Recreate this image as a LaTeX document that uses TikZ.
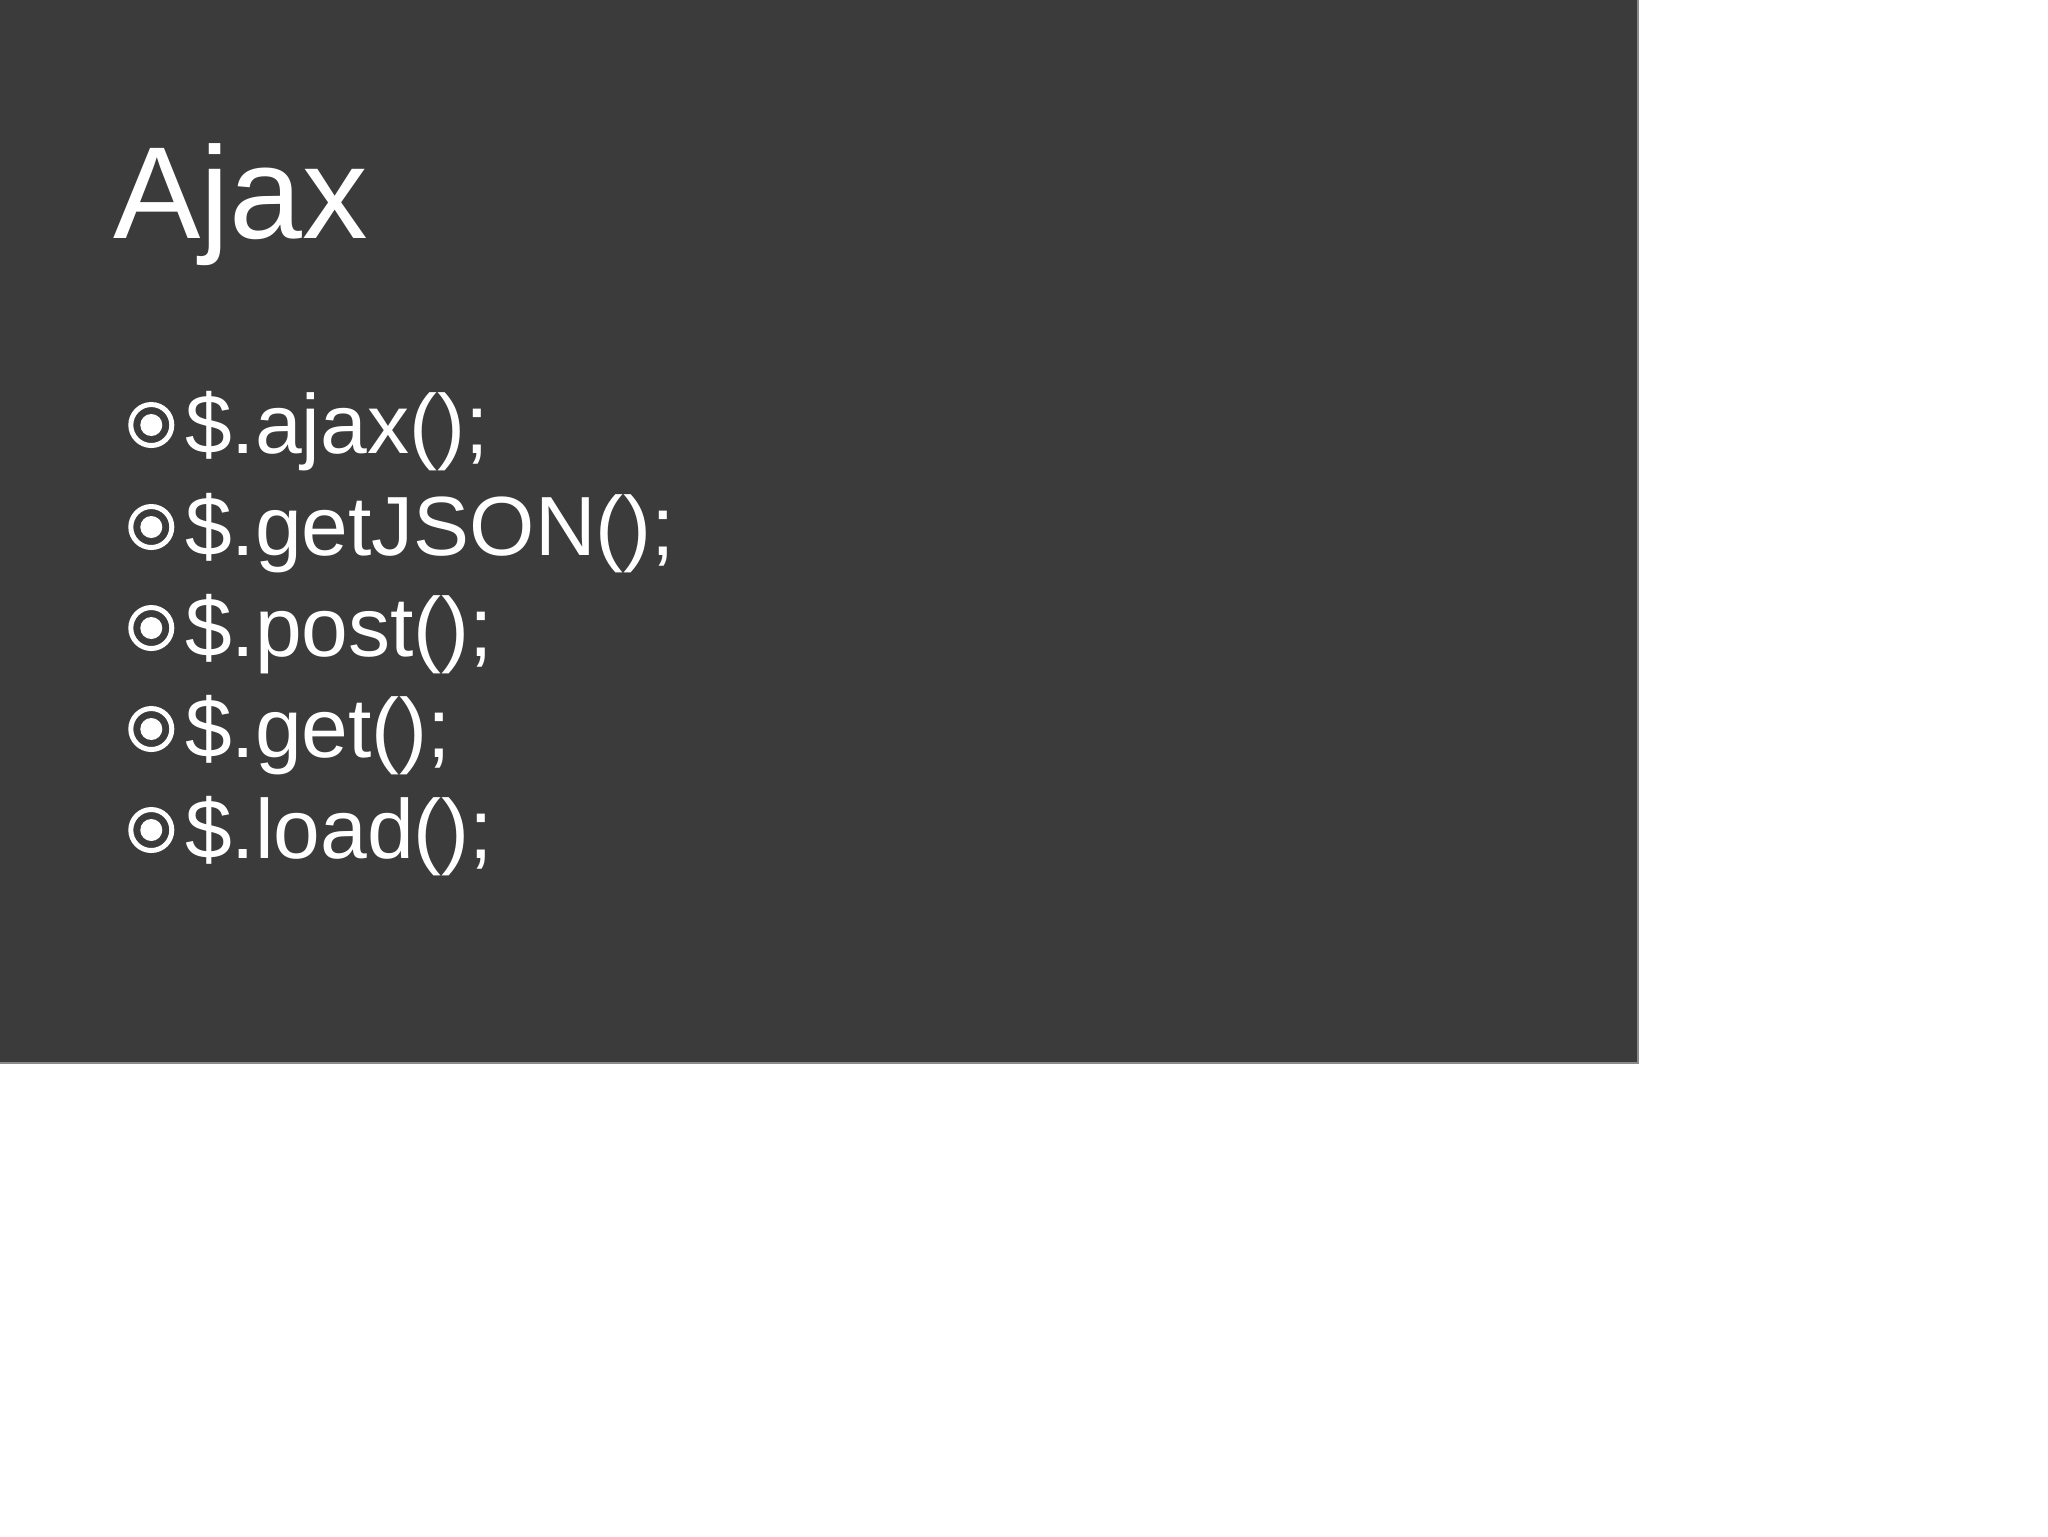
\documentclass[tikz,border=0pt]{standalone}
\usepackage{fontspec}
\setmainfont{Liberation Sans}
\definecolor{slidebg}{HTML}{3B3B3B}
\definecolor{edgegray}{HTML}{8A8A8A}
\begin{document}
\begin{tikzpicture}[x=0.25pt,y=-0.25pt,
  titletext/.style={anchor=base west,inner sep=0pt,outer sep=0pt,text=white,font=\fontsize{32.75pt}{39pt}\selectfont},
  itemtext/.style={anchor=base west,inner sep=0pt,outer sep=0pt,text=white,font=\fontsize{21pt}{25pt}\selectfont},
  ring/.style={draw=white,line width=1.25pt},
  dot/.style={fill=white}]
\useasboundingbox (0,0) rectangle (2048,1536);
\fill[white] (0,0) rectangle (2048,1536);
\fill[slidebg] (0,0) rectangle (1638,1063);
\draw[edgegray,line width=0.3pt] (1638,0) -- (1638,1063) -- (0,1063);
\node[titletext] (title) at (113,238) {Ajax};
\foreach \i/\y/\t in {1/453/{\$.ajax();},2/555/{\$.getJSON();},3/656/{\$.post();},4/757/{\$.get();},5/858/{\$.load();}}{
  \draw[ring] (151.3,\y-28) circle[radius=5.125pt];
  \fill[dot] (151.3,\y-28) circle[radius=2.75pt];
  \node[itemtext] (item\i) at (185,\y) {\t};
}
\end{tikzpicture}
\end{document}
